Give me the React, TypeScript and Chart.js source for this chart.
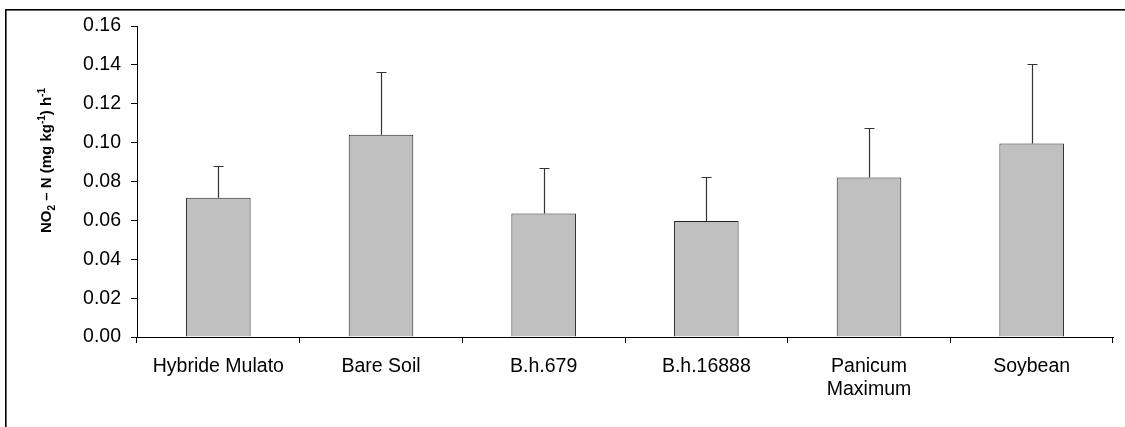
import React, { useEffect, useRef } from "react";
import { Chart, registerables } from "chart.js";

Chart.register(...registerables);

const categories: (string | string[])[] = [
  "Hybride Mulato",
  "Bare Soil",
  "B.h.679",
  "B.h.16888",
  ["Panicum", "Maximum"],
  "Soybean",
];
const meanValues = [0.0716, 0.104, 0.0635, 0.0597, 0.082, 0.0996];
const upperErrors = [0.0163, 0.0324, 0.0236, 0.0228, 0.0256, 0.0409];
const yTickMin = 0;
const yTickMax = 0.16;
const yTickStep = 0.02;

const FONT = "'Liberation Sans', Arial, sans-serif";

const frameAndTitlePlugin = {
  id: "frameAndTitle",
  beforeDraw(chart: any) {
    const ctx = chart.ctx;
    ctx.save();
    ctx.fillStyle = "#ffffff";
    ctx.fillRect(0, 0, chart.width, chart.height);
    ctx.fillStyle = "#000000";
    ctx.fillRect(5, 9, 1.6, chart.height);
    ctx.fillRect(5, 9, chart.width, 1.6);
    ctx.restore();
  },
  afterDraw(chart: any) {
    const ctx = chart.ctx;
    const parts: { t: string; k: "n" | "sub" | "sup" }[] = [
      { t: "NO", k: "n" },
      { t: "2", k: "sub" },
      { t: " \u2013 N (mg kg", k: "n" },
      { t: "-1", k: "sup" },
      { t: ") h", k: "n" },
      { t: "-1", k: "sup" },
    ];
    const size = 15;
    const small = 10;
    ctx.save();
    let total = 0;
    for (const p of parts) {
      ctx.font = `bold ${p.k === "n" ? size : small}px ${FONT}`;
      total += ctx.measureText(p.t).width;
    }
    const area = chart.chartArea;
    const centerY = 160.5;
    const baseX = 50.5;
    ctx.translate(baseX, centerY + total / 2);
    ctx.rotate(-Math.PI / 2);
    ctx.fillStyle = "#000";
    ctx.textBaseline = "alphabetic";
    ctx.textAlign = "left";
    let x = 0;
    for (const p of parts) {
      ctx.font = `bold ${p.k === "n" ? size : small}px ${FONT}`;
      const dy = p.k === "sub" ? 4 : p.k === "sup" ? -6 : 0;
      ctx.fillText(p.t, x, dy);
      x += ctx.measureText(p.t).width;
    }
    ctx.restore();
    void area;
  },
};

const errorBarPlugin = {
  id: "errorBars",
  afterDatasetsDraw(chart: any) {
    const ctx = chart.ctx;
    const yScale = chart.scales.y;
    const meta = chart.getDatasetMeta(0);
    ctx.save();
    ctx.strokeStyle = "#333333";
    ctx.lineWidth = 1.2;
    meta.data.forEach((bar: any, i: number) => {
      const x = Math.round(bar.x) + 0.5;
      const yTop = yScale.getPixelForValue(meanValues[i]);
      const yErr = Math.round(yScale.getPixelForValue(meanValues[i] + upperErrors[i])) + 0.5;
      ctx.beginPath();
      ctx.moveTo(x, yTop);
      ctx.lineTo(x, yErr);
      ctx.moveTo(x - 5, yErr);
      ctx.lineTo(x + 5, yErr);
      ctx.stroke();
    });
    ctx.restore();
  },
};

export default function App() {
  const canvasRef = useRef<HTMLCanvasElement | null>(null);

  useEffect(() => {
    if (!canvasRef.current) return;
    const chart = new Chart(canvasRef.current, {
      type: "bar",
      data: {
        labels: categories,
        datasets: [
          {
            data: meanValues,
            backgroundColor: "#c0c0c0",
            borderColor: "#222222",
            borderWidth: 1,
            categoryPercentage: 1,
            barPercentage: 0.397,
          },
        ],
      },
      options: {
        animation: false,
        responsive: false,
        devicePixelRatio: 1,
        layout: { padding: { left: 0, right: 12, top: 26, bottom: 0 } },
        plugins: {
          legend: { display: false },
          tooltip: { enabled: false },
        },
        scales: {
          x: {
            grid: {
              display: true,
              drawOnChartArea: false,
              drawTicks: true,
              tickLength: 6,
              color: "#000",
              tickColor: "#000",
              offset: true,
            },
            border: { display: true, color: "#000", width: 1 },
            ticks: {
              color: "#000",
              font: { family: FONT, size: 19.5 },
              padding: 12,
              maxRotation: 0,
              minRotation: 0,
              autoSkip: false,
            },
            afterFit(axis: any) {
              axis.height = 90;
            },
          },
          y: {
            min: yTickMin,
            max: yTickMax,
            grid: {
              display: true,
              drawOnChartArea: false,
              drawTicks: true,
              tickLength: 6,
              color: "#000",
              tickColor: "#000",
            },
            border: { display: true, color: "#000", width: 1 },
            ticks: {
              stepSize: yTickStep,
              color: "#000",
              font: { family: FONT, size: 19.5 },
              padding: 10,
              callback: (v: any) => Number(v).toFixed(2),
            },
            afterFit(axis: any) {
              axis.width = 137;
            },
          },
        },
      },
      plugins: [frameAndTitlePlugin, errorBarPlugin],
    });
    return () => chart.destroy();
  }, []);

  return (
    <div style={{ position: "fixed", left: 0, top: 0, width: 1125, height: 427, background: "#fff" }}>
      <canvas ref={canvasRef} width={1125} height={427} style={{ width: 1125, height: 427, display: "block" }} />
    </div>
  );
}
